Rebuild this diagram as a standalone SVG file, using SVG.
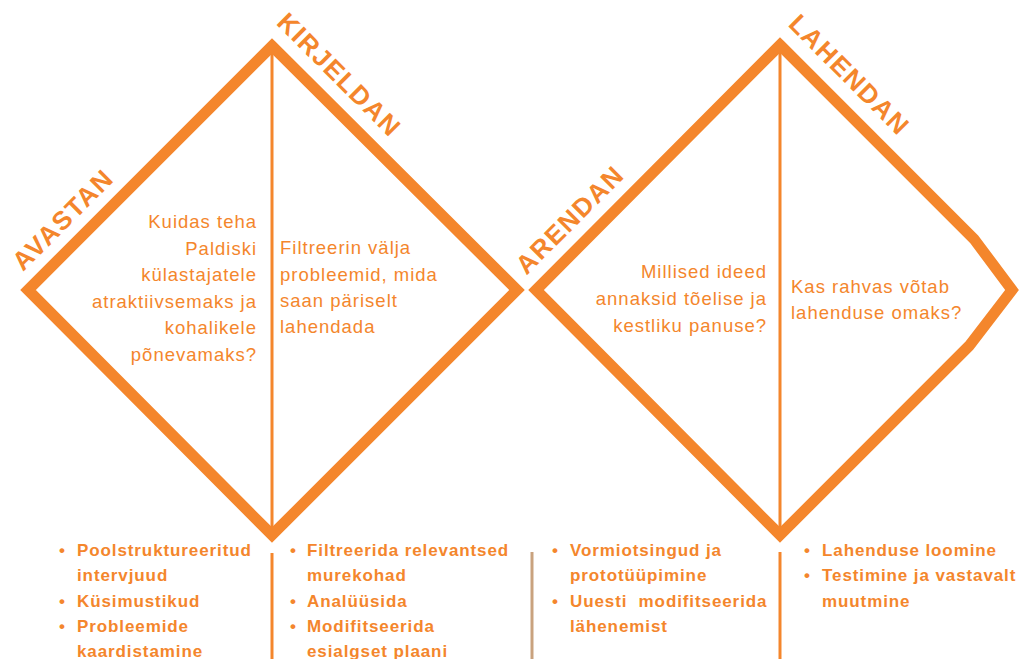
<svg xmlns="http://www.w3.org/2000/svg" width="1023" height="659" viewBox="0 0 1023 659">
  <style>
    .shape { fill: none; stroke: #F4862C; stroke-width: 11; stroke-linejoin: miter; stroke-miterlimit: 10; }
    .div { stroke: #F4862C; stroke-width: 3; fill: none; }
    .tan { stroke: #C9A27E; stroke-width: 3; fill: none; }
    .lbl { font-family: "Liberation Sans", Arial, sans-serif; font-weight: 700; font-size: 26px; letter-spacing: 1.5px; fill: #F4862C; text-anchor: middle; }
    .q { font-family: "Liberation Sans", Arial, sans-serif; font-size: 18.5px; letter-spacing: 1px; fill: #F4862C; }
    .r { text-anchor: end; }
    .b { font-family: "Liberation Sans", Arial, sans-serif; font-weight: 700; font-size: 17px; letter-spacing: 0.9px; fill: #F4862C; white-space: pre; }
  </style>
  <rect width="1023" height="659" fill="#FFFFFF"/>

  <g id="connectors">
    <line class="div" x1="272" y1="46" x2="272" y2="534"/>
    <line class="div" x1="780" y1="45" x2="780" y2="535"/>
    <line class="div" x1="272" y1="553" x2="272" y2="659"/>
    <line class="tan" x1="532" y1="552" x2="532" y2="659"/>
    <line class="div" x1="780" y1="552" x2="780" y2="659"/>
  </g>

  <g id="diamond-left">
    <polygon class="shape" points="272,46 517,290 272,535 28,290"/>
  </g>
  <g id="diamond-right">
    <polygon class="shape" points="780,45 974,239 1012,290 969,346 780,535 536,290"/>
  </g>

  <g id="label-avastan">
    <text class="lbl" transform="translate(62,220) rotate(-45)" x="0.8" y="9.3">AVASTAN</text>
  </g>
  <g id="label-kirjeldan">
    <text class="lbl" transform="translate(339,74) rotate(45)" x="0.8" y="9.3">KIRJELDAN</text>
  </g>
  <g id="label-arendan">
    <text class="lbl" transform="translate(569,220) rotate(-45)" x="0.8" y="9.3">ARENDAN</text>
  </g>
  <g id="label-lahendan">
    <text class="lbl" transform="translate(849,74) rotate(45)" x="0.8" y="9.3">LAHENDAN</text>
  </g>

  <g id="q-avastan">
    <text class="q r" x="257" y="228">Kuidas teha</text>
    <text class="q r" x="257" y="254.5">Paldiski</text>
    <text class="q r" x="257" y="281">külastajatele</text>
    <text class="q r" x="257" y="307.5">atraktiivsemaks ja</text>
    <text class="q r" x="257" y="334">kohalikele</text>
    <text class="q r" x="257" y="360.5">põnevamaks?</text>
  </g>
  <g id="q-kirjeldan">
    <text class="q" x="280" y="254">Filtreerin välja</text>
    <text class="q" x="280" y="280.5">probleemid, mida</text>
    <text class="q" x="280" y="307">saan päriselt</text>
    <text class="q" x="280" y="333">lahendada</text>
  </g>
  <g id="q-arendan">
    <text class="q r" x="767" y="278">Millised ideed</text>
    <text class="q r" x="767" y="305">annaksid tõelise ja</text>
    <text class="q r" x="767" y="332">kestliku panuse?</text>
  </g>
  <g id="q-lahendan">
    <text class="q" x="791" y="293">Kas rahvas võtab</text>
    <text class="q" x="791" y="319">lahenduse omaks?</text>
  </g>

  <g id="list-avastan">
    <text class="b" x="59" y="556">•</text>
    <text class="b" x="77" y="556">Poolstruktureeritud</text>
    <text class="b" x="77" y="581.3">intervjuud</text>
    <text class="b" x="59" y="606.6">•</text>
    <text class="b" x="77" y="606.6">Küsimustikud</text>
    <text class="b" x="59" y="631.9">•</text>
    <text class="b" x="77" y="631.9">Probleemide</text>
    <text class="b" x="77" y="656.5">kaardistamine</text>
  </g>
  <g id="list-kirjeldan">
    <text class="b" x="290" y="556">•</text>
    <text class="b" x="307" y="556">Filtreerida relevantsed</text>
    <text class="b" x="307" y="581.3">murekohad</text>
    <text class="b" x="290" y="606.6">•</text>
    <text class="b" x="307" y="606.6">Analüüsida</text>
    <text class="b" x="290" y="631.9">•</text>
    <text class="b" x="307" y="631.9">Modifitseerida</text>
    <text class="b" x="307" y="656.5">esialgset plaani</text>
  </g>
  <g id="list-arendan">
    <text class="b" x="552" y="556">•</text>
    <text class="b" x="570" y="556">Vormiotsingud ja</text>
    <text class="b" x="570" y="581.3">prototüüpimine</text>
    <text class="b" x="552" y="606.6">•</text>
    <text class="b" x="570" y="606.6">Uuesti  modifitseerida</text>
    <text class="b" x="570" y="631.9">lähenemist</text>
  </g>
  <g id="list-lahendan">
    <text class="b" x="804" y="556">•</text>
    <text class="b" x="822" y="556">Lahenduse loomine</text>
    <text class="b" x="804" y="581.3">•</text>
    <text class="b" x="822" y="581.3">Testimine ja vastavalt</text>
    <text class="b" x="822" y="606.6">muutmine</text>
  </g>
</svg>
